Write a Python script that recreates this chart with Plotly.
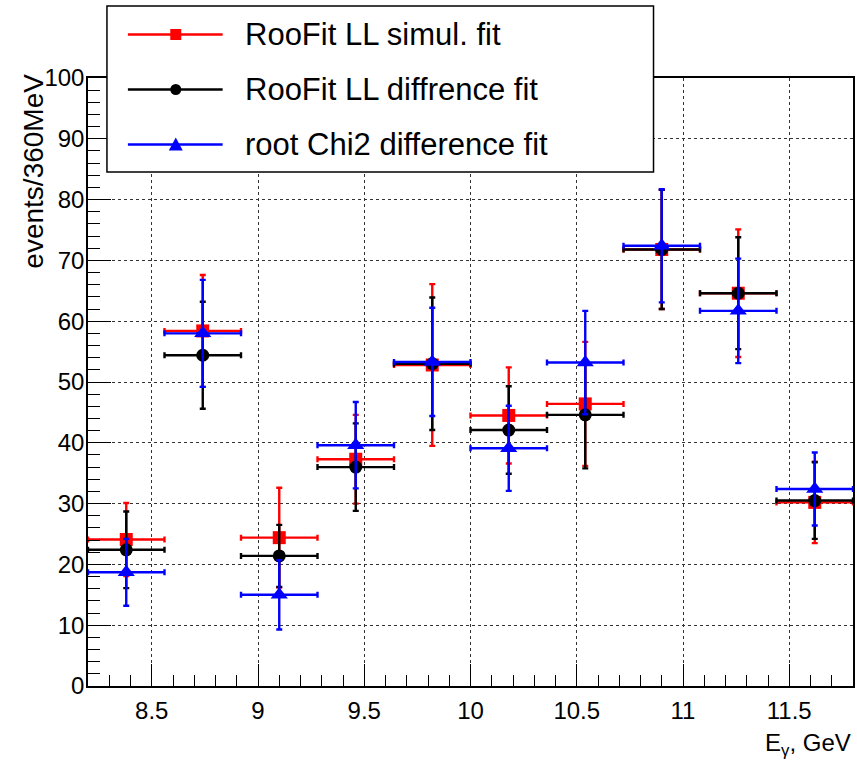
import plotly.graph_objects as go

# ---------------- data ----------------
x_centers = [8.38, 8.74, 9.10, 9.46, 9.82, 10.18, 10.54, 10.90, 11.26, 11.62]
x_halfwidth = [0.18] * 10

simul_vals = [24.1, 58.4, 24.4, 37.3, 52.8, 44.5, 46.4, 71.8, 64.6, 30.2]
simul_errs = [6.0, 9.2, 8.2, 7.3, 13.3, 7.9, 10.2, 9.8, 10.5, 6.7]

diff_vals = [22.4, 54.4, 21.4, 36.0, 53.0, 42.1, 44.6, 71.8, 64.6, 30.5]
diff_errs = [6.3, 8.8, 5.1, 7.2, 10.9, 7.2, 8.8, 9.8, 9.2, 6.3]

chi2_vals = [18.7, 58.0, 15.0, 39.6, 53.3, 39.1, 53.2, 72.4, 61.7, 32.4]
chi2_errs = [5.5, 8.8, 5.7, 7.1, 8.9, 7.0, 8.5, 9.3, 8.6, 6.0]

series_names = ["RooFit LL simul. fit", "RooFit LL diffrence fit", "root Chi2 difference fit"]
x_tick_vals = [8.5, 9, 9.5, 10, 10.5, 11, 11.5]
x_tick_text = ["8.5", "9", "9.5", "10", "10.5", "11", "11.5"]
y_tick_vals = [0, 10, 20, 30, 40, 50, 60, 70, 80, 90, 100]
y_tick_text = [str(v) for v in y_tick_vals]

# ---------------- layout helpers ----------------
W, H = 857, 761
L, R, T, B = 88, 855, 78, 686
FONT = "Liberation Sans, Arial, Helvetica, sans-serif"


def px(p):
    return (p - L) / (R - L)


def py(p):
    return (B - p) / (B - T)


styles = [
    dict(color="#ff0000", symbol="square", size=13),
    dict(color="#000000", symbol="circle", size=13),
    dict(color="#0000ff", symbol="triangle-up", size=15),
]
values = [simul_vals, diff_vals, chi2_vals]
errors = [simul_errs, diff_errs, chi2_errs]

fig = go.Figure()
for name, vals, errs, st in zip(series_names, values, errors, styles):
    fig.add_trace(go.Scatter(
        x=x_centers, y=vals, name=name, mode="markers",
        marker=dict(symbol=st["symbol"], size=st["size"], color=st["color"],
                    line=dict(width=0)),
        error_x=dict(type="data", array=x_halfwidth, color=st["color"],
                     thickness=2.4, width=3),
        error_y=dict(type="data", array=errs, color=st["color"],
                     thickness=2.4, width=3),
        showlegend=False, cliponaxis=True,
    ))

axis_common = dict(
    showline=True, linecolor="black", linewidth=1.5, mirror=True,
    ticks="inside", tickcolor="black", tickwidth=1,
    showgrid=True, gridcolor="#333333", griddash="dot", gridwidth=1,
    zeroline=False,
    tickfont=dict(family=FONT, size=24, color="black"),
)

fig.update_xaxes(
    range=[8.2, 11.8], tickmode="array", tickvals=x_tick_vals, ticktext=x_tick_text,
    ticklen=22, ticklabelstandoff=2,
    minor=dict(dtick=0.1, tick0=8.2, ticklen=11, ticks="inside", tickcolor="black",
               showgrid=False),
    **axis_common,
)
fig.update_yaxes(
    range=[0, 100], tickmode="array", tickvals=y_tick_vals, ticktext=y_tick_text,
    ticklen=23, ticklabelstandoff=-3,
    minor=dict(dtick=2, tick0=0, ticklen=12, ticks="inside", tickcolor="black",
               showgrid=False),
    **axis_common,
)

shapes = []
annotations = []

# legend box
shapes.append(dict(type="rect", xref="paper", yref="paper",
                   x0=px(107), x1=px(655), y0=py(172), y1=py(6),
                   line=dict(color="black", width=1.5), fillcolor="white",
                   layer="above"))
rows = [34.5, 89.5, 144.5]
mx = 176
for name, st, ry in zip(series_names, styles, rows):
    shapes.append(dict(type="line", xref="paper", yref="paper",
                       x0=px(128), x1=px(223), y0=py(ry), y1=py(ry),
                       line=dict(color=st["color"], width=2.5), layer="above"))
    if st["symbol"] == "square":
        s = 5.5
        shapes.append(dict(type="rect", xref="paper", yref="paper",
                           x0=px(mx - s), x1=px(mx + s), y0=py(ry + s), y1=py(ry - s),
                           line=dict(width=0), fillcolor=st["color"], layer="above"))
    elif st["symbol"] == "circle":
        s = 5.5
        shapes.append(dict(type="circle", xref="paper", yref="paper",
                           x0=px(mx - s), x1=px(mx + s), y0=py(ry + s), y1=py(ry - s),
                           line=dict(width=0), fillcolor=st["color"], layer="above"))
    else:
        s = 7
        path = "M {:.5f},{:.5f} L {:.5f},{:.5f} L {:.5f},{:.5f} Z".format(
            px(mx - s), py(ry + 6), px(mx + s), py(ry + 6), px(mx), py(ry - 7))
        shapes.append(dict(type="path", xref="paper", yref="paper", path=path,
                           line=dict(width=0), fillcolor=st["color"], layer="above"))
    annotations.append(dict(xref="paper", yref="paper", x=px(243), y=py(ry),
                            xanchor="left", yanchor="middle", text=name,
                            showarrow=False,
                            font=dict(family=FONT, size=31, color="black")))

# axis titles
annotations.append(dict(xref="paper", yref="paper", x=px(33), y=py(72),
                        xanchor="center", yanchor="top", textangle=-90,
                        text="events/360MeV", showarrow=False,
                        font=dict(family=FONT, size=28, color="black")))
annotations.append(dict(xref="paper", yref="paper", x=1.0, y=py(727),
                        xanchor="right", yanchor="top",
                        text="E<sub>γ</sub>, GeV", showarrow=False,
                        font=dict(family=FONT, size=24, color="black")))

fig.update_layout(
    width=W, height=H,
    margin=dict(l=L, r=W - R, t=T, b=H - B),
    paper_bgcolor="white", plot_bgcolor="white",
    shapes=shapes, annotations=annotations,
    showlegend=False,
    font=dict(family=FONT),
)

fig.write_html("out.html", config={"displayModeBar": False},
               post_script="document.body.style.margin='0';document.body.style.overflow='hidden';")
